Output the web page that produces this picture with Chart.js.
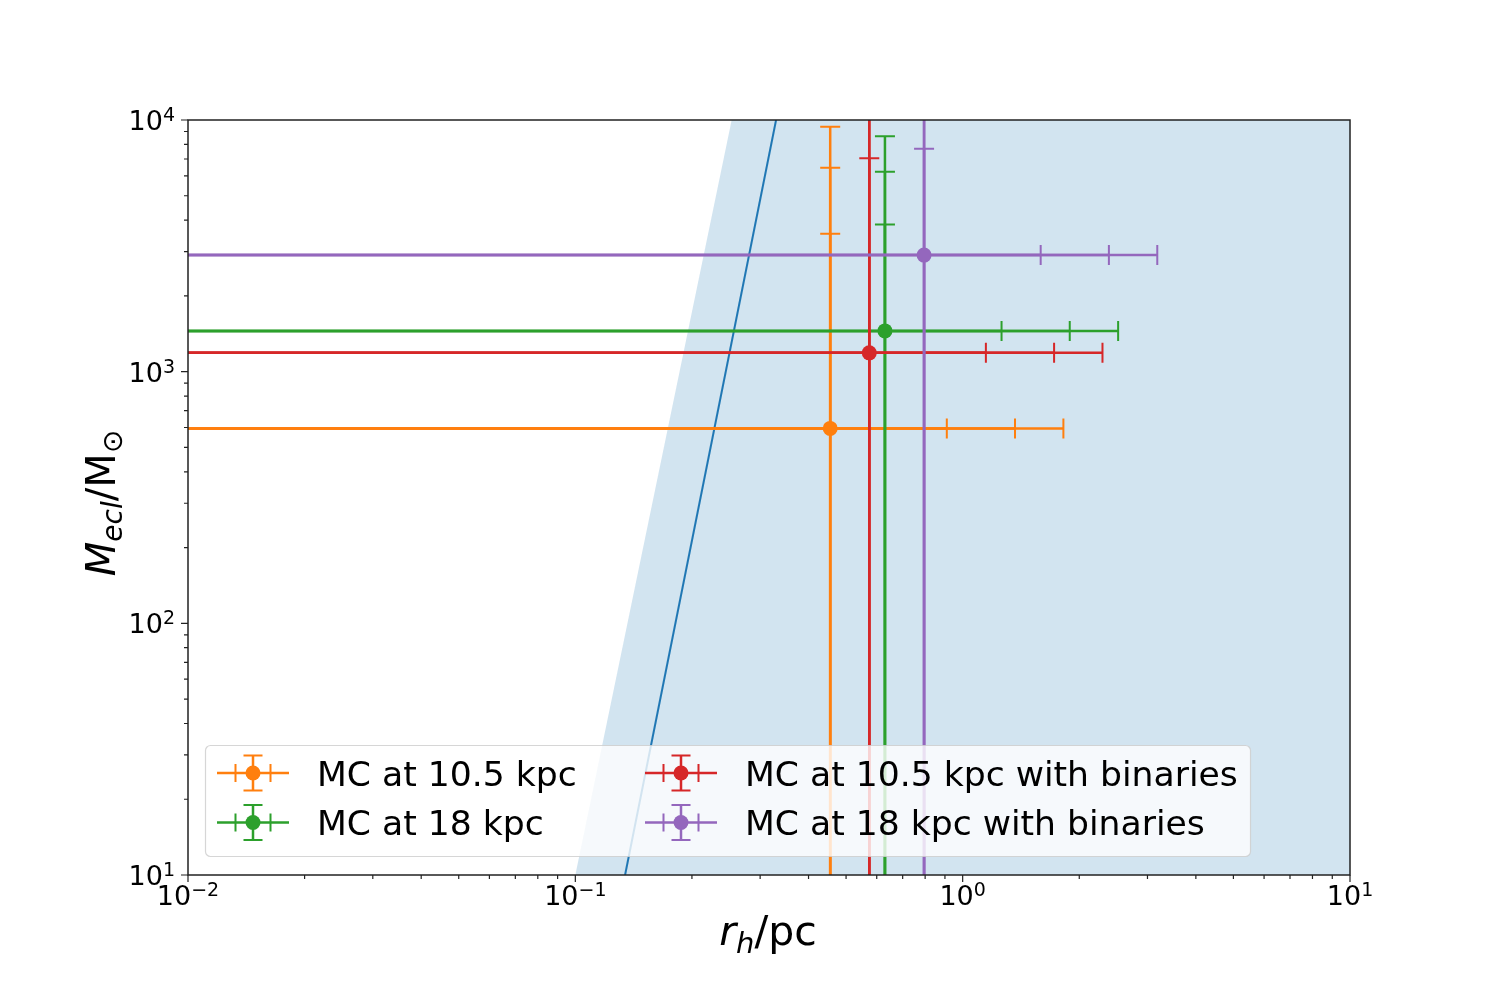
<!DOCTYPE html>
<html>
<head>
<meta charset="utf-8">
<script src="https://cdn.jsdelivr.net/npm/chart.js@4.4.1/dist/chart.umd.min.js"></script>
<style>
  html, body { margin: 0; padding: 0; background: #fff; }
  canvas { display: block; }
</style>
</head>
<body>
<canvas id="clusterChart" width="1500" height="1000"></canvas>
<script>
// series, in plot order (legend fills column by column)
const seriesNames = ['MC at 10.5 kpc', 'MC at 18 kpc', 'MC at 10.5 kpc with binaries', 'MC at 18 kpc with binaries'];
const seriesColors = ['#ff7f0e', '#2ca02c', '#d62728', '#9467bd'];
const halfMassRadius = [0.455, 0.630, 0.574, 0.795];   // r_h [pc]
const clusterMass = [595, 1452, 1188, 2905];            // M_ecl [Msun]
const radiusErr = [0.455, 0.630, 0.574, 0.795];        // 1 sigma on r_h
const massErr = [2935, 2390, 5855, 4785];              // 1 sigma on M_ecl
const sigmaLevels = [1, 2, 3];

// shaded region and the blue relation line
const shadeRadius = [0.1, 0.2533, 10];
const shadeMass = [10, 10000, 10000];
const relationRadius = [0.1344, 0.3298];
const relationMass = [10, 10000];

// axes
const xDecades = [0.01, 0.1, 1, 10];
const xExponents = ['\u22122', '\u22121', '0', '1'];
const yDecades = [10, 100, 1000, 10000];
const yExponents = ['1', '2', '3', '4'];
const minorSteps = [2, 3, 4, 5, 6, 7, 8, 9];

const FONT = '"DejaVu Sans", "Noto Sans", sans-serif';

function pts(xs, ys) {
  return xs.map((x, i) => ({ x: x, y: ys[i] }));
}

// draws a list of text pieces [{t, size, italic, dy}] starting at x
function drawParts(ctx, parts, x, y, align) {
  let total = 0;
  parts.forEach(p => {
    ctx.font = (p.italic ? 'italic ' : '') + p.size + 'px ' + FONT;
    p.w = ctx.measureText(p.t).width;
    total += p.w;
  });
  let cx = align === 'center' ? x - total / 2 : (align === 'right' ? x - total : x);
  ctx.textAlign = 'left';
  ctx.textBaseline = 'alphabetic';
  parts.forEach(p => {
    ctx.font = (p.italic ? 'italic ' : '') + p.size + 'px ' + FONT;
    ctx.fillText(p.t, cx, y + (p.dy || 0));
    cx += p.w;
  });
}

function powParts(exp) {
  return [{ t: '10', size: 27 }, { t: exp, size: 19, dy: -9 }];
}

const errorBarPlugin = {
  id: 'errorBars',
  beforeDatasetDraw(chart, args) {
    const ds = chart.data.datasets[args.index];
    if (ds.seriesIndex === undefined) return;
    const i = ds.seriesIndex;
    const xs = chart.scales.x, ys = chart.scales.y, area = chart.chartArea;
    const ctx = chart.ctx;
    const px = xs.getPixelForValue(halfMassRadius[i]);
    const py = ys.getPixelForValue(clusterMass[i]);
    const cap = 10;
    ctx.save();
    ctx.beginPath();
    ctx.rect(area.left, area.top, area.right - area.left, area.bottom - area.top);
    ctx.clip();
    ctx.strokeStyle = seriesColors[i];
    sigmaLevels.forEach(k => {
      const xLo = halfMassRadius[i] - k * radiusErr[i];
      const xHi = halfMassRadius[i] + k * radiusErr[i];
      const yLo = clusterMass[i] - k * massErr[i];
      const yHi = clusterMass[i] + k * massErr[i];
      const pxLo = xLo > 0 ? xs.getPixelForValue(xLo) : area.left - 20;
      const pxHi = xs.getPixelForValue(xHi);
      const pyLo = yLo > 0 ? ys.getPixelForValue(yLo) : area.bottom + 20;
      const pyHi = ys.getPixelForValue(yHi);
      ctx.lineWidth = 2.5;
      ctx.beginPath();
      ctx.moveTo(pxLo, py); ctx.lineTo(pxHi, py);
      ctx.moveTo(px, pyLo); ctx.lineTo(px, pyHi);
      ctx.stroke();
      ctx.lineWidth = 2;
      ctx.beginPath();
      ctx.moveTo(pxHi, py - cap); ctx.lineTo(pxHi, py + cap);
      ctx.moveTo(px - cap, pyHi); ctx.lineTo(px + cap, pyHi);
      if (xLo > 0) { ctx.moveTo(pxLo, py - cap); ctx.lineTo(pxLo, py + cap); }
      if (yLo > 0) { ctx.moveTo(px - cap, pyLo); ctx.lineTo(px + cap, pyLo); }
      ctx.stroke();
    });
    ctx.restore();
  }
};

const legendPlugin = {
  id: 'mplLegend',
  afterDatasetsDraw(chart) {
    const ctx = chart.ctx;
    const colX = [253, 681], textX = [317, 745], rowY = [773, 822.5];
    ctx.save();
    ctx.beginPath();
    ctx.roundRect(205.5, 745.5, 1045, 111, 5);
    ctx.fillStyle = 'rgba(255,255,255,0.8)';
    ctx.fill();
    ctx.strokeStyle = 'rgba(204,204,204,0.8)';
    ctx.lineWidth = 1.2;
    ctx.stroke();
    seriesNames.forEach((name, i) => {
      const cx = colX[Math.floor(i / 2)], cy = rowY[i % 2];
      ctx.strokeStyle = seriesColors[i];
      ctx.lineWidth = 2.5;
      ctx.beginPath();
      ctx.moveTo(cx - 36, cy); ctx.lineTo(cx + 36, cy);
      ctx.moveTo(cx, cy - 17.5); ctx.lineTo(cx, cy + 17.5);
      ctx.stroke();
      ctx.lineWidth = 2;
      ctx.beginPath();
      ctx.moveTo(cx - 17.5, cy - 9); ctx.lineTo(cx - 17.5, cy + 9);
      ctx.moveTo(cx + 17.5, cy - 9); ctx.lineTo(cx + 17.5, cy + 9);
      ctx.moveTo(cx - 9.5, cy - 17.5); ctx.lineTo(cx + 9.5, cy - 17.5);
      ctx.moveTo(cx - 9.5, cy + 17.5); ctx.lineTo(cx + 9.5, cy + 17.5);
      ctx.stroke();
      ctx.fillStyle = seriesColors[i];
      ctx.beginPath();
      ctx.arc(cx, cy, 7.5, 0, Math.PI * 2);
      ctx.fill();
      ctx.fillStyle = '#000';
      ctx.font = '34.6px ' + FONT;
      ctx.textAlign = 'left';
      ctx.textBaseline = 'alphabetic';
      ctx.fillText(name, textX[Math.floor(i / 2)], cy + 12.5);
    });
    ctx.restore();
  }
};

const axesPlugin = {
  id: 'mplAxes',
  afterDraw(chart) {
    const ctx = chart.ctx, area = chart.chartArea;
    const xs = chart.scales.x, ys = chart.scales.y;
    ctx.save();
    // frame
    ctx.strokeStyle = '#222';
    ctx.lineWidth = 1.5;
    ctx.strokeRect(area.left, area.top, area.right - area.left, area.bottom - area.top);
    // ticks
    ctx.lineWidth = 1.2;
    ctx.beginPath();
    xDecades.forEach((d, j) => {
      const p = xs.getPixelForValue(d);
      ctx.moveTo(p, area.bottom); ctx.lineTo(p, area.bottom + 7);
      if (j < xDecades.length - 1) minorSteps.forEach(m => {
        const q = xs.getPixelForValue(m * d);
        ctx.moveTo(q, area.bottom); ctx.lineTo(q, area.bottom + 4);
      });
    });
    yDecades.forEach((d, j) => {
      const p = ys.getPixelForValue(d);
      ctx.moveTo(area.left, p); ctx.lineTo(area.left - 7, p);
      if (j < yDecades.length - 1) minorSteps.forEach(m => {
        const q = ys.getPixelForValue(m * d);
        ctx.moveTo(area.left, q); ctx.lineTo(area.left - 4, q);
      });
    });
    ctx.stroke();
    // tick labels
    ctx.fillStyle = '#000';
    xDecades.forEach((d, j) => {
      drawParts(ctx, powParts(xExponents[j]), xs.getPixelForValue(d), area.bottom + 30, 'center');
    });
    yDecades.forEach((d, j) => {
      drawParts(ctx, powParts(yExponents[j]), area.left - 13, ys.getPixelForValue(d) + 10, 'right');
    });
    // axis titles
    drawParts(ctx, [
      { t: 'r', size: 41, italic: true },
      { t: 'h', size: 29, italic: true, dy: 8 },
      { t: '/pc', size: 41 }
    ], 768, 945, 'center');
    ctx.translate(115, 503);
    ctx.rotate(-Math.PI / 2);
    drawParts(ctx, [
      { t: 'M', size: 40, italic: true },
      { t: 'ecl', size: 28, italic: true, dy: 7 },
      { t: '/M', size: 40 },
      { t: '\u2299', size: 28, dy: 7 }
    ], 0, 0, 'center');
    ctx.restore();
  }
};

const datasets = [
  {
    data: pts(shadeRadius, shadeMass),
    showLine: true,
    fill: 'start',
    backgroundColor: 'rgba(31,119,180,0.2)',
    borderColor: 'transparent',
    borderWidth: 0,
    pointRadius: 0,
    order: 10
  },
  {
    data: pts(relationRadius, relationMass),
    showLine: true,
    fill: false,
    borderColor: '#1f77b4',
    borderWidth: 2,
    pointRadius: 0,
    order: 9
  }
];
seriesNames.forEach((name, i) => {
  datasets.push({
    label: name,
    seriesIndex: i,
    data: [{ x: halfMassRadius[i], y: clusterMass[i] }],
    pointRadius: 7.5,
    pointBackgroundColor: seriesColors[i],
    pointBorderWidth: 0,
    order: 8 - i
  });
});

new Chart(document.getElementById('clusterChart'), {
  type: 'scatter',
  data: { datasets: datasets },
  options: {
    responsive: false,
    devicePixelRatio: 1,
    animation: false,
    events: [],
    layout: { autoPadding: false, padding: { left: 0, top: 120, right: 150, bottom: 0 } },
    plugins: { legend: { display: false }, tooltip: { enabled: false } },
    scales: {
      x: {
        type: 'logarithmic', min: 0.01, max: 10,
        grid: { display: false }, border: { display: false },
        ticks: { display: false },
        afterFit: s => { s.height = 125; }
      },
      y: {
        type: 'logarithmic', min: 10, max: 10000,
        grid: { display: false }, border: { display: false },
        ticks: { display: false },
        afterFit: s => { s.width = 188; }
      }
    }
  },
  plugins: [errorBarPlugin, legendPlugin, axesPlugin]
});
</script>
</body>
</html>
